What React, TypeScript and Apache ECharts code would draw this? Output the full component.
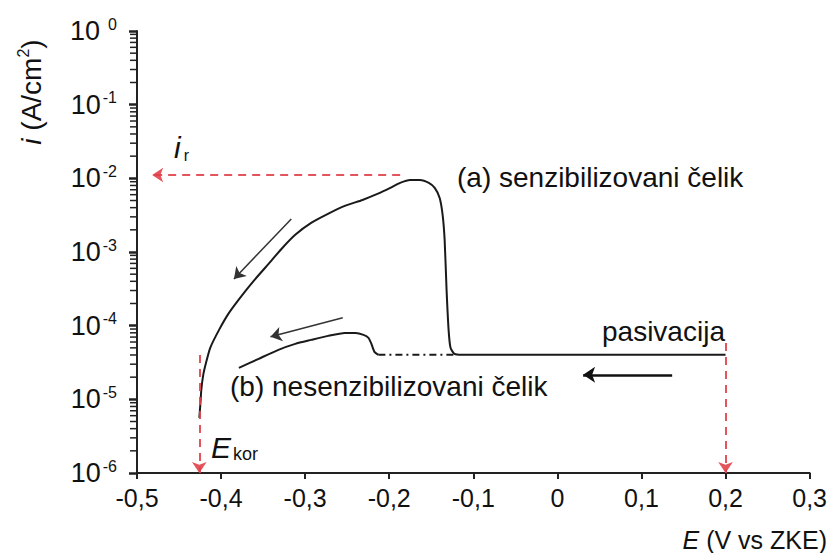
import React, { useEffect, useRef } from 'react';
import * as echarts from 'echarts';

// Curve (a) senzibilizovani čelik
const curveA_E = [-0.4259, -0.4247, -0.4235, -0.4212, -0.4176, -0.4129, -0.4024, -0.3906, -0.3765, -0.3612, -0.3435, -0.3282, -0.3118, -0.2929, -0.2729, -0.2529, -0.2318, -0.2141, -0.1988, -0.1871, -0.1753, -0.1635, -0.1529, -0.1459, -0.14, -0.1365, -0.1341, -0.1318, -0.1294, -0.1271, -0.1224, -0.1141, 0.2];
const curveA_I = [5.61e-6, 8.4e-6, 1.35e-5, 2.15e-5, 3.23e-5, 5.0e-5, 8.77e-5, 1.49e-4, 2.46e-4, 4.06e-4, 6.9e-4, 1.1e-3, 1.71e-3, 2.48e-3, 3.29e-3, 4.22e-3, 5.09e-3, 6.14e-3, 7.41e-3, 8.67e-3, 9.5e-3, 9.5e-3, 8.67e-3, 7.41e-3, 5.42e-3, 3.19e-3, 1.46e-3, 3.06e-4, 8.77e-5, 5.0e-5, 4.14e-5, 4.02e-5, 4.02e-5];

// Curve (b) nesenzibilizovani čelik
const curveB_E = [-0.3788, -0.3553, -0.3318, -0.3118, -0.2929, -0.2729, -0.2529, -0.24, -0.2306, -0.2247, -0.2212, -0.2176, -0.2129];
const curveB_I = [2.67e-5, 3.55e-5, 4.7e-5, 5.66e-5, 6.41e-5, 7.27e-5, 7.98e-5, 7.98e-5, 7.5e-5, 6.83e-5, 5.66e-5, 4.41e-5, 4.02e-5];
const dashB_E = [-0.2129, -0.1224];
const dashB_I = [4.02e-5, 4.02e-5];

// Black direction arrows [fromE, fromI, toE, toI]
const thinArrows = [
  [-0.3165, 2.81e-3, -0.3847, 4.31e-4],
  [-0.2553, 1.28e-4, -0.3412, 7.05e-5],
];
const thickArrows = [[0.1365, 2.15e-5, 0.0306, 2.15e-5]];

// Red dashed arrows (i_r, E_kor, pasivacija)
const redArrows = [
  [-0.187, 1.11e-2, -0.482, 1.11e-2],
  [-0.4259, 4.0e-5, -0.4259, 1e-6],
  [0.2, 5.8e-5, 0.2, 1e-6],
];

// Axis ticks
const X_MIN = -0.5;
const X_MAX = 0.3;
const X_STEP = 0.1;
const Y_MIN = 1e-6;
const Y_MAX = 1;
const DECADES = [-6, -5, -4, -3, -2, -1];
const MANTISSAS = [2, 3, 4, 5, 6, 7, 8, 9];

const FONT = 'Liberation Sans, Arial, Helvetica, sans-serif';

export default function App() {
  const ref = useRef<HTMLDivElement>(null);

  useEffect(() => {
    document.body.style.margin = '0';
    const chart = echarts.init(ref.current!, undefined, { renderer: 'svg' });

    const minor: number[][] = [];
    DECADES.forEach((d) => MANTISSAS.forEach((m) => minor.push([X_MIN, m * Math.pow(10, d)])));

    const toLines = (arr: number[][]) => arr.map((a) => ({ coords: [[a[0], a[1]], [a[2], a[3]]] }));

    const option: any = {
      animation: false,
      grid: { left: 137, right: 13, top: 31, bottom: 80, containLabel: false },
      xAxis: {
        type: 'value',
        min: X_MIN,
        max: X_MAX,
        interval: X_STEP,
        axisLine: { onZero: false, lineStyle: { color: '#222', width: 2 } },
        axisTick: { show: true, length: 6, lineStyle: { color: '#222', width: 2 } },
        splitLine: { show: false },
        axisLabel: {
          margin: 12,
          color: '#111',
          fontSize: 25,
          fontFamily: FONT,
          formatter: (v: number) => {
            const r = Math.round(v * 10) / 10;
            if (Math.abs(r) < 1e-9) return '0';
            return r.toFixed(1).replace('.', ',');
          },
        },
      },
      yAxis: {
        type: 'log',
        logBase: 10,
        min: Y_MIN,
        max: Y_MAX,
        interval: 1,
        axisLine: { show: true, onZero: false, lineStyle: { color: '#222', width: 2 } },
        axisTick: { show: true, length: 8, lineStyle: { color: '#222', width: 2.5 } },
        splitLine: { show: false },
        axisLabel: {
          margin: 20,
          color: '#111',
          formatter: (v: number) => {
            const e = Math.round(Math.log10(v));
            if (e === 0) return '{b|10}{z|0}';
            return '{b|10}{s|' + String(e) + '}';
          },
          rich: {
            b: { fontSize: 27, fontFamily: FONT, color: '#111', lineHeight: 30 },
            s: { fontSize: 16, fontFamily: FONT, color: '#111', verticalAlign: 'top', lineHeight: 18, padding: [0, 0, 0, 2] },
            z: { fontSize: 16, fontFamily: FONT, color: '#111', verticalAlign: 'top', lineHeight: 18, padding: [0, 0, 0, 8] },
          },
        },
      },
      series: [
        {
          type: 'custom',
          coordinateSystem: 'cartesian2d',
          silent: true,
          clip: false,
          z: 3,
          data: minor,
          renderItem: (params: any, api: any) => {
            const p = api.coord([api.value(0), api.value(1)]);
            return {
              type: 'line',
              shape: { x1: p[0] - 7, y1: p[1], x2: p[0], y2: p[1] },
              style: { stroke: '#222', lineWidth: 1.5 },
            };
          },
        },
        {
          type: 'line',
          name: 'a',
          data: curveA_E.map((e, i) => [e, curveA_I[i]]),
          showSymbol: false,
          smooth: 0.2,
          lineStyle: { color: '#1a1a1a', width: 2 },
          z: 4,
        },
        {
          type: 'line',
          name: 'b',
          data: curveB_E.map((e, i) => [e, curveB_I[i]]),
          showSymbol: false,
          smooth: 0.2,
          lineStyle: { color: '#1a1a1a', width: 2 },
          z: 4,
        },
        {
          type: 'line',
          name: 'b-dash',
          data: dashB_E.map((e, i) => [e, dashB_I[i]]),
          showSymbol: false,
          lineStyle: { color: '#1a1a1a', width: 2, type: [7, 4, 2, 4] },
          z: 4,
        },
        {
          type: 'lines',
          coordinateSystem: 'cartesian2d',
          data: toLines(thinArrows),
          symbol: ['none', 'arrow'],
          symbolSize: [7, 11],
          lineStyle: { color: '#333', width: 1.5, opacity: 1 },
          z: 5,
        },
        {
          type: 'lines',
          coordinateSystem: 'cartesian2d',
          data: toLines(thickArrows),
          symbol: ['none', 'arrow'],
          symbolSize: [8, 12],
          lineStyle: { color: '#111', width: 2.5, opacity: 1 },
          z: 5,
        },
        {
          type: 'lines',
          coordinateSystem: 'cartesian2d',
          data: toLines(redArrows),
          symbol: ['none', 'arrow'],
          symbolSize: [8, 11],
          lineStyle: { color: '#e0414b', width: 2, type: [8, 6], opacity: 0.9 },
          z: 6,
        },
      ],
      graphic: [
        {
          type: 'text',
          left: 457,
          top: 163,
          style: { text: '(a) senzibilizovani čelik', font: '28px ' + FONT, fill: '#111' },
        },
        {
          type: 'text',
          left: 230,
          top: 372,
          style: { text: '(b) nesenzibilizovani čelik', font: '28px ' + FONT, fill: '#111' },
        },
        {
          type: 'text',
          left: 602,
          top: 317,
          style: { text: 'pasivacija', font: '28px ' + FONT, fill: '#111' },
        },
        {
          type: 'text',
          left: 174,
          top: 132,
          style: {
            text: '{i|i}{s|r}',
            rich: {
              i: { fontSize: 30, fontStyle: 'italic', fontFamily: FONT, fill: '#111', lineHeight: 32 },
              s: { fontSize: 16, fontFamily: FONT, fill: '#111', verticalAlign: 'bottom', lineHeight: 18, padding: [0, 0, 0, 3] },
            },
          },
        },
        {
          type: 'text',
          left: 211,
          top: 432,
          style: {
            text: '{i|E}{s|kor}',
            rich: {
              i: { fontSize: 30, fontStyle: 'italic', fontFamily: FONT, fill: '#111', lineHeight: 32 },
              s: { fontSize: 18, fontFamily: FONT, fill: '#111', verticalAlign: 'bottom', lineHeight: 20, padding: [0, 0, 0, 2] },
            },
          },
        },
        {
          type: 'text',
          x: 827,
          y: 540,
          style: {
            text: '{i|E}{n| (V vs ZKE)}',
            align: 'right',
            verticalAlign: 'middle',
            rich: {
              i: { fontSize: 25, fontStyle: 'italic', fontFamily: FONT, fill: '#111', lineHeight: 24 },
              n: { fontSize: 25, fontFamily: FONT, fill: '#111', lineHeight: 24 },
            },
          },
        },
        {
          type: 'text',
          x: 31,
          y: 92,
          rotation: Math.PI / 2,
          style: {
            text: '{i|i}{n| (A/cm}{s|2}{n|)}',
            align: 'center',
            verticalAlign: 'middle',
            rich: {
              i: { fontSize: 28, fontStyle: 'italic', fontFamily: FONT, fill: '#111', lineHeight: 32 },
              n: { fontSize: 28, fontFamily: FONT, fill: '#111', lineHeight: 32 },
              s: { fontSize: 16, fontFamily: FONT, fill: '#111', verticalAlign: 'top', lineHeight: 20 },
            },
          },
        },
      ],
    };

    chart.setOption(option);
    return () => chart.dispose();
  }, []);

  return <div ref={ref} style={{ width: 830, height: 553 }} />;
}
